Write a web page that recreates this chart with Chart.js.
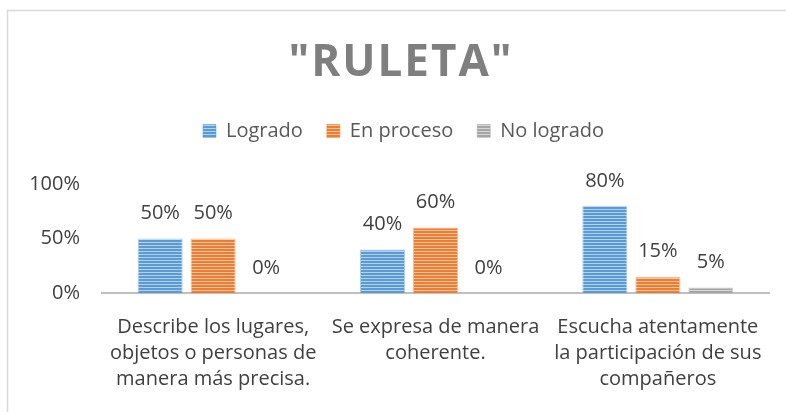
<!DOCTYPE html>
<html>
<head>
<meta charset="utf-8">
<script src="https://cdn.jsdelivr.net/npm/chart.js@4.4.1/dist/chart.umd.min.js"></script>
<style>
html,body{margin:0;padding:0;background:#fff;}
#wrap{position:relative;width:786px;height:412px;}
</style>
</head>
<body>
<div id="wrap"><canvas id="c" width="786" height="412"></canvas></div>
<script>
const chartTitle = '"RULETA"';
const categories = [
  ["Describe los lugares,", "objetos o personas de", "manera más precisa."],
  ["Se expresa de manera", "coherente."],
  ["Escucha atentamente", "la participación de sus", "compañeros"]
];
const seriesNames = ["Logrado", "En proceso", "No logrado"];
const logrado = [0.50, 0.40, 0.80];
const enProceso = [0.50, 0.60, 0.15];
const noLogrado = [0.00, 0.00, 0.05];
const yTicks = [0, 0.5, 1];
const colors = ["#5b9bd5", "#ed7d31", "#a5a5a5"];

const FONT = "'Open Sans', sans-serif";
const FS = 20;

function stripe(color) {
  const p = document.createElement('canvas');
  p.width = 4; p.height = 3;
  const g = p.getContext('2d');
  g.fillStyle = color; g.fillRect(0, 0, 4, 3);
  g.fillStyle = 'rgba(255,255,255,0.55)'; g.fillRect(0, 2, 4, 1);
  return g.createPattern(p, 'repeat');
}

const ctx = document.getElementById('c').getContext('2d');

const framePlugin = {
  id: 'frame',
  beforeInit(chart) {
    const orig = chart.legend.fit;
    chart.legend.fit = function () {
      orig.call(this);
      this.height += 33;
    };
  },
  afterLayout(chart) {
    chart.legend.left += 19;
    chart.legend.right += 19;
  },
  beforeDraw(chart) {
    const c = chart.ctx;
    c.save();
    c.fillStyle = '#fff';
    c.fillRect(0, 0, chart.width, chart.height);
    c.strokeStyle = '#d9d9d9';
    c.lineWidth = 1.5;
    c.strokeRect(7.5, 10.5, 900, 500);
    c.fillStyle = '#7f7f7f';
    c.font = "bold 44px " + FONT;
    c.letterSpacing = '2px';
    c.textAlign = 'center';
    c.textBaseline = 'alphabetic';
    c.fillText(chartTitle, 401, 76);
    c.restore();
  }
};

const labelPlugin = {
  id: 'barLabels',
  afterDatasetsDraw(chart) {
    const c = chart.ctx;
    c.save();
    c.font = FS + "px " + FONT;
    c.fillStyle = '#404040';
    c.textAlign = 'center';
    c.textBaseline = 'middle';
    chart.data.datasets.forEach((ds, i) => {
      chart.getDatasetMeta(i).data.forEach((el, j) => {
        const v = ds.data[j];
        c.fillText(Math.round(v * 100) + '%', el.x, el.y - 25);
      });
    });
    c.restore();
  }
};

new Chart(ctx, {
  type: 'bar',
  data: {
    labels: categories,
    datasets: [
      { label: seriesNames[0], data: logrado, backgroundColor: stripe(colors[0]), borderColor: 'rgba(91,155,213,0.5)', borderWidth: 1 },
      { label: seriesNames[1], data: enProceso, backgroundColor: stripe(colors[1]), borderColor: 'rgba(237,125,49,0.5)', borderWidth: 1 },
      { label: seriesNames[2], data: noLogrado, backgroundColor: stripe(colors[2]), borderColor: 'rgba(165,165,165,0.5)', borderWidth: 1 }
    ]
  },
  options: {
    responsive: false,
    animation: false,
    devicePixelRatio: 1,
    categoryPercentage: 0.715,
    barPercentage: 0.85,
    layout: { padding: { top: 97, right: 17, left: 0, bottom: 0 } },
    plugins: {
      title: { display: false },
      tooltip: { enabled: false },
      legend: {
        display: true,
        position: 'top',
        labels: {
          font: { family: FONT, size: FS },
          color: '#595959',
          boxWidth: 13,
          boxHeight: 13,
          padding: 24
        }
      }
    },
    scales: {
      x: {
        grid: { display: false, drawTicks: false },
        border: { display: true, color: '#bfbfbf', width: 2 },
        ticks: {
          font: { family: FONT, size: FS, lineHeight: 1.3 },
          color: '#404040',
          maxRotation: 0,
          autoSkip: false,
          padding: 21
        },
        afterFit(s) { s.height = 119; }
      },
      y: {
        min: 0, max: 1,
        afterBuildTicks(s) { s.ticks = yTicks.map(v => ({ value: v })); },
        grid: { display: false, drawTicks: false },
        border: { display: false },
        ticks: {
          font: { family: FONT, size: FS },
          color: '#404040',
          padding: 22,
          callback: v => Math.round(v * 100) + '%'
        },
        afterFit(s) { s.width = 102; }
      }
    }
  },
  plugins: [framePlugin, labelPlugin]
});
</script>
</body>
</html>
